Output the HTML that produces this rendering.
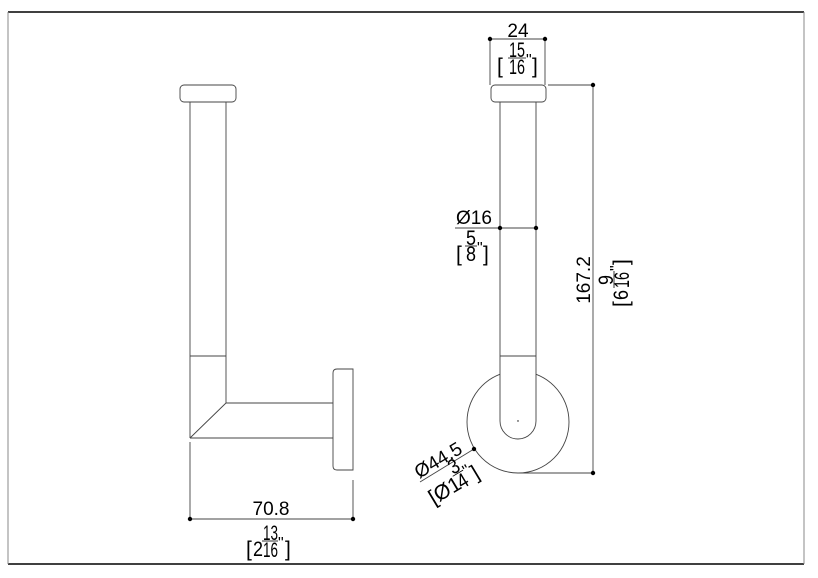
<!DOCTYPE html>
<html><head><meta charset="utf-8"><style>
html,body{margin:0;padding:0;background:#fff;}
svg{display:block;}
text{font-family:"Liberation Sans",sans-serif;fill:#000;}
</style></head><body>
<svg width="818" height="578" viewBox="0 0 818 578" xmlns="http://www.w3.org/2000/svg">
<rect x="0" y="0" width="818" height="578" fill="#fff"/>
<line x1="8" y1="12" x2="804" y2="12" stroke="#000" stroke-width="1.5"/>
<line x1="8" y1="564" x2="804" y2="564" stroke="#000" stroke-width="1.5"/>
<line x1="8" y1="12" x2="8" y2="564" stroke="#888" stroke-width="1"/>
<line x1="804" y1="12" x2="804" y2="564" stroke="#888" stroke-width="1"/>

<g fill="none" stroke="#444" stroke-width="0.9">
<rect x="180" y="85" width="56" height="17" rx="4"/>
<line x1="190" y1="102" x2="190" y2="438"/>
<line x1="226" y1="102" x2="226" y2="403"/>
<line x1="190" y1="356" x2="226" y2="356"/>
<line x1="226" y1="403" x2="333" y2="403"/>
<line x1="190" y1="438" x2="333" y2="438"/>
<line x1="226" y1="403" x2="190" y2="438"/>
<path d="M353 369 L337 369 Q333 369 333 373 L333 466 Q333 470 337 470 L353 470 Z"/>
<line x1="190" y1="442" x2="190" y2="520"/>
<line x1="353" y1="480" x2="353" y2="520"/>
<line x1="190" y1="519" x2="353" y2="519"/>

<circle cx="518" cy="422" r="51"/>
<path d="M500 102 L500 421 A18 18 0 0 0 536 421 L536 102" fill="#fff"/>
<line x1="500" y1="356" x2="536" y2="356"/>
<rect x="491" y="85" width="55" height="17" rx="4" fill="#fff"/>
<line x1="490" y1="39" x2="490" y2="85"/>
<line x1="545" y1="39" x2="545" y2="85"/>
<line x1="490" y1="39" x2="545" y2="39"/>
<line x1="548" y1="85" x2="593" y2="85"/>
<line x1="518" y1="473" x2="593" y2="473"/>
<line x1="593" y1="85" x2="593" y2="473"/>
<line x1="455" y1="228" x2="536" y2="228"/>
<line x1="474" y1="449" x2="420" y2="482"/>
</g>
<g fill="#000">
<circle cx="190" cy="519" r="2.2"/><circle cx="353" cy="519" r="2.2"/>
<circle cx="490" cy="39" r="2.2"/><circle cx="545" cy="39" r="2.2"/>
<circle cx="593" cy="85" r="2.2"/><circle cx="593" cy="473" r="2.2"/>
<circle cx="500" cy="228" r="2.2"/><circle cx="536" cy="228" r="2.2"/>
<circle cx="474" cy="449" r="2.2"/>
<circle cx="518" cy="421" r="0.7"/>
</g>

<text x="271" y="515" style="font-size:19px" text-anchor="middle">70.8</text>
<text x="246" y="556" style="font-size:21px">[</text>
<text x="253" y="556" style="font-size:21px" textLength="10" lengthAdjust="spacingAndGlyphs">2</text>
<text x="263" y="540" style="font-size:21px" textLength="15" lengthAdjust="spacingAndGlyphs">13</text>
<line x1="262" y1="541" x2="278" y2="541" stroke="#000" stroke-width="0.8"/>
<text x="263" y="557" style="font-size:21px" textLength="15" lengthAdjust="spacingAndGlyphs">16</text>
<text x="278" y="548" style="font-size:16px">"</text>
<text x="285" y="556" style="font-size:21px">]</text>

<text x="518" y="37" style="font-size:19px" text-anchor="middle">24</text>
<text x="497" y="73" style="font-size:21px">[</text>
<text x="509" y="57" style="font-size:21px" textLength="16" lengthAdjust="spacingAndGlyphs">15</text>
<line x1="508" y1="58" x2="526" y2="58" stroke="#000" stroke-width="0.8"/>
<text x="509" y="74" style="font-size:21px" textLength="16" lengthAdjust="spacingAndGlyphs">16</text>
<text x="526" y="65" style="font-size:16px">"</text>
<text x="532" y="73" style="font-size:21px">]</text>

<text x="456" y="224" style="font-size:19px">Ø16</text>
<text x="456" y="261" style="font-size:21px">[</text>
<text x="466" y="245" style="font-size:21px" textLength="10" lengthAdjust="spacingAndGlyphs">5</text>
<line x1="465" y1="246" x2="477" y2="246" stroke="#000" stroke-width="0.8"/>
<text x="466" y="261" style="font-size:21px" textLength="10" lengthAdjust="spacingAndGlyphs">8</text>
<text x="477" y="253" style="font-size:16px">"</text>
<text x="483" y="261" style="font-size:21px">]</text>

<g transform="translate(590,280) rotate(-90)">
<text x="0" y="0" style="font-size:19px" text-anchor="middle">167.2</text>
<text x="-27" y="38" style="font-size:21px">[</text>
<text x="-20" y="38" style="font-size:21px" textLength="10" lengthAdjust="spacingAndGlyphs">6</text>
<text x="-5" y="23" style="font-size:21px" textLength="10" lengthAdjust="spacingAndGlyphs">9</text>
<line x1="-8" y1="24" x2="9" y2="24" stroke="#000" stroke-width="0.8"/>
<text x="-8" y="39" style="font-size:21px" textLength="16" lengthAdjust="spacingAndGlyphs">16</text>
<text x="9" y="31" style="font-size:16px">"</text>
<text x="15" y="38" style="font-size:21px">]</text>
</g>

<g transform="translate(420,482) rotate(-31)">
<text x="1" y="-3" style="font-size:19px">Ø44.5</text>
<text x="0" y="27" style="font-size:21px">[Ø1</text>
<text x="32" y="11" style="font-size:21px" textLength="10" lengthAdjust="spacingAndGlyphs">3</text>
<line x1="31" y1="12" x2="43" y2="12" stroke="#000" stroke-width="0.8"/>
<text x="32" y="28" style="font-size:21px" textLength="10" lengthAdjust="spacingAndGlyphs">4</text>
<text x="43" y="19" style="font-size:16px">"</text>
<text x="49" y="27" style="font-size:21px">]</text>
</g>
</svg>
</body></html>
